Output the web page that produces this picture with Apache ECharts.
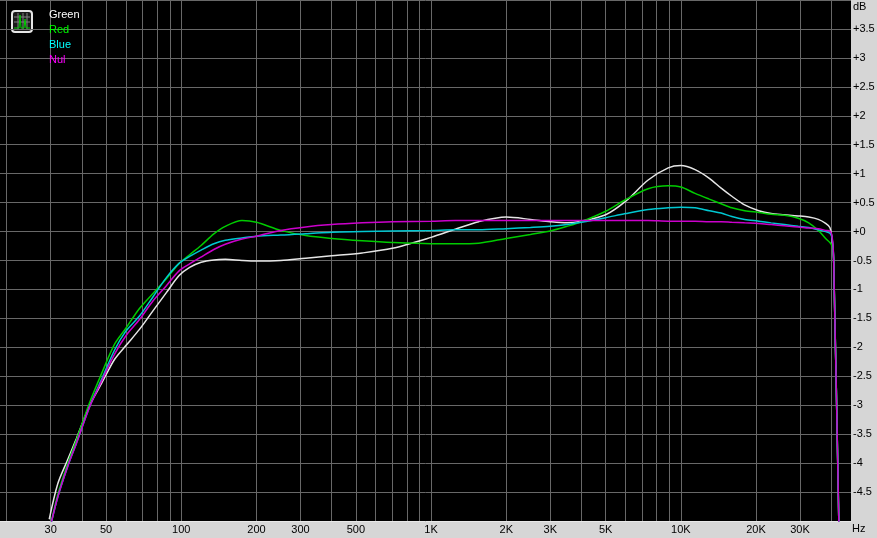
<!DOCTYPE html>
<html>
<head>
<meta charset="utf-8">
<title>Frequency response</title>
<script src="https://cdn.jsdelivr.net/npm/echarts@6/dist/echarts.min.js"></script>
<style>
  html, body { margin: 0; padding: 0; background: #d6d6d6; }
  #chart { width: 877px; height: 538px; }
</style>
</head>
<body>
<div id="chart"></div>
<script>
// frequency points (Hz) shared by all curves
const freqs = [29.6, 32, 35, 38, 43, 48, 54, 60, 68, 77,
  87, 98, 108, 120, 135, 150, 175, 200, 250, 315,
  400, 530, 700, 1000, 1250, 1550, 2000, 2500, 3000, 3500,
  4000, 5000, 6000, 7400, 8900, 10000, 11400, 13000, 14500, 16000,
  18000, 20500, 23000, 26000, 29500, 32500, 35500, 38000, 39500, 40300,
  40900, 42900, 43700]

// levels in dB
const greenCh = [-4.97, -4.36, -3.95, -3.58, -3.0, -2.62, -2.21, -1.97, -1.69, -1.37,
  -1.06, -0.76, -0.62, -0.53, -0.49, -0.48, -0.50, -0.51, -0.50, -0.46,
  -0.42, -0.37, -0.29, -0.10, 0.04, 0.17, 0.25, 0.21, 0.17, 0.15,
  0.18, 0.29, 0.52, 0.89, 1.10, 1.14, 1.07, 0.92, 0.75, 0.61,
  0.46, 0.36, 0.31, 0.29, 0.27, 0.25, 0.21, 0.14, 0.07, -0.12,
  -0.48, -5.0, -6.7]
const redCh = [-5.18, -4.55, -4.02, -3.6, -2.95, -2.45, -1.95, -1.67, -1.33, -1.07,
  -0.82, -0.55, -0.40, -0.24, -0.04, 0.09, 0.19, 0.16, 0.02, -0.07,
  -0.12, -0.16, -0.19, -0.21, -0.21, -0.20, -0.12, -0.05, 0.01, 0.09,
  0.17, 0.35, 0.55, 0.74, 0.79, 0.77, 0.66, 0.56, 0.48, 0.41,
  0.36, 0.33, 0.30, 0.28, 0.23, 0.15, 0.02, -0.12, -0.19, -0.25,
  -0.45, -5.0, -6.7]
const blueCh = [-5.18, -4.59, -4.07, -3.66, -3.02, -2.55, -2.05, -1.72, -1.46, -1.13,
  -0.80, -0.55, -0.43, -0.32, -0.21, -0.15, -0.11, -0.08, -0.06, -0.04,
  -0.01, 0.0, 0.01, 0.02, 0.03, 0.03, 0.05, 0.07, 0.09, 0.12,
  0.16, 0.24, 0.31, 0.38, 0.41, 0.42, 0.41, 0.36, 0.32, 0.26,
  0.21, 0.18, 0.15, 0.12, 0.09, 0.07, 0.03, 0.0, -0.03, -0.11,
  -0.48, -5.0, -6.7]
const nulCh = [-5.18, -4.59, -4.07, -3.66, -3.02, -2.58, -2.12, -1.80, -1.52, -1.20,
  -0.94, -0.68, -0.56, -0.44, -0.31, -0.22, -0.13, -0.08, 0.02, 0.08,
  0.12, 0.15, 0.17, 0.18, 0.19, 0.19, 0.19, 0.19, 0.19, 0.19,
  0.19, 0.19, 0.19, 0.19, 0.18, 0.18, 0.18, 0.17, 0.17, 0.16,
  0.15, 0.14, 0.12, 0.10, 0.08, 0.06, 0.05, 0.02, 0.01, -0.08,
  -0.48, -5.0, -6.7]

// grid lines and labels on the frequency axis
const gridFreqs = [20, 30, 40, 50, 60, 70, 80, 90, 100, 200, 300, 400, 500, 600, 700, 800, 900,
  1000, 2000, 3000, 4000, 5000, 6000, 7000, 8000, 9000, 10000, 20000, 30000, 40000]
const labelFreqs = [30, 50, 100, 200, 300, 500, 1000, 2000, 3000, 5000, 10000, 20000, 30000]

const names = ['Green', 'Red', 'Blue', 'Nul']
const colors = ['#e6e6e6', '#00cc00', '#00c8d2', '#cc00cc']
const legendColors = ['#ffffff', '#00ff00', '#00ffff', '#ff00ff']
const curves = [greenCh, redCh, blueCh, nulCh]

const font = 'Liberation Sans, Arial, sans-serif'
const chart = echarts.init(document.getElementById('chart'))

chart.setOption({
  animation: false,
  backgroundColor: '#d6d6d6',
  grid: {
    left: 0, right: 26, top: 0, bottom: 17,
    show: true,
    backgroundColor: '#000000',
    borderWidth: 0,
    containLabel: false,
    outerBoundsMode: 'none'
  },
  legend: {
    orient: 'vertical',
    left: 44,
    top: 9,
    padding: 0,
    itemGap: 4,
    itemWidth: 0,
    itemHeight: 11,
    icon: 'none',
    selectedMode: false,
    textStyle: { fontSize: 11, fontFamily: font },
    data: names.map((n, i) => ({ name: n, textStyle: { color: legendColors[i] } }))
  },
  xAxis: {
    type: 'log',
    logBase: 10,
    min: 18.8,
    max: 48000,
    axisLine: { show: true, onZero: false, lineStyle: { color: '#e8e8e8', width: 1 } },
    axisTick: { show: false, customValues: gridFreqs },
    axisLabel: {
      customValues: labelFreqs,
      margin: 3,
      color: '#000',
      fontSize: 11,
      fontFamily: font,
      formatter: v => {
        const r = Math.round(v)
        return r >= 1000 ? (r / 1000) + 'K' : String(r)
      }
    },
    splitLine: { show: true, lineStyle: { color: '#686868', width: 1 } }
  },
  yAxis: {
    type: 'value',
    position: 'right',
    min: -5,
    max: 4,
    interval: 0.5,
    axisLine: { show: false },
    axisTick: { show: false },
    axisLabel: {
      margin: 2,
      color: '#000',
      fontSize: 11,
      fontFamily: font,
      formatter: v => {
        if (v > 3.99 || v < -4.99) return ''
        const s = String(Math.round(v * 10) / 10)
        return v >= 0 ? '+' + s : s
      }
    },
    splitLine: { show: true, lineStyle: { color: '#686868', width: 1 } }
  },
  graphic: [
    { type: 'text', left: 853, top: 1, style: { text: 'dB', fill: '#000', font: '11px ' + font } },
    { type: 'text', left: 852, top: 523, style: { text: 'Hz', fill: '#000', font: '11px ' + font } },
    {
      type: 'group', left: 11, top: 10,
      children: [
        { type: 'rect', shape: { x: 1, y: 1, width: 20, height: 21, r: 3 },
          style: { fill: '#1a1a1a', stroke: '#e6e6e6', lineWidth: 2 } },
        { type: 'line', shape: { x1: 3, y1: 7, x2: 19, y2: 7 }, style: { stroke: '#808080', lineWidth: 1 } },
        { type: 'line', shape: { x1: 3, y1: 12, x2: 19, y2: 12 }, style: { stroke: '#808080', lineWidth: 1 } },
        { type: 'line', shape: { x1: 7, y1: 3, x2: 7, y2: 20 }, style: { stroke: '#808080', lineWidth: 1 } },
        { type: 'line', shape: { x1: 12, y1: 3, x2: 12, y2: 20 }, style: { stroke: '#808080', lineWidth: 1 } },
        { type: 'line', shape: { x1: 16, y1: 3, x2: 16, y2: 20 }, style: { stroke: '#808080', lineWidth: 1 } },
        { type: 'polyline', shape: { points: [[3, 18], [8, 18], [9, 5], [10, 18], [13, 18], [14, 9], [15, 18], [19, 18]] },
          style: { stroke: '#00cc00', fill: null, lineWidth: 1 } }
      ]
    }
  ],
  series: names.map((n, i) => ({
    name: n,
    type: 'line',
    data: freqs.map((f, j) => [f, curves[i][j]]),
    showSymbol: false,
    symbol: 'none',
    smooth: 0.3,
    clip: true,
    color: colors[i],
    lineStyle: { color: colors[i], width: 1.5 }
  }))
})
</script>
</body>
</html>
